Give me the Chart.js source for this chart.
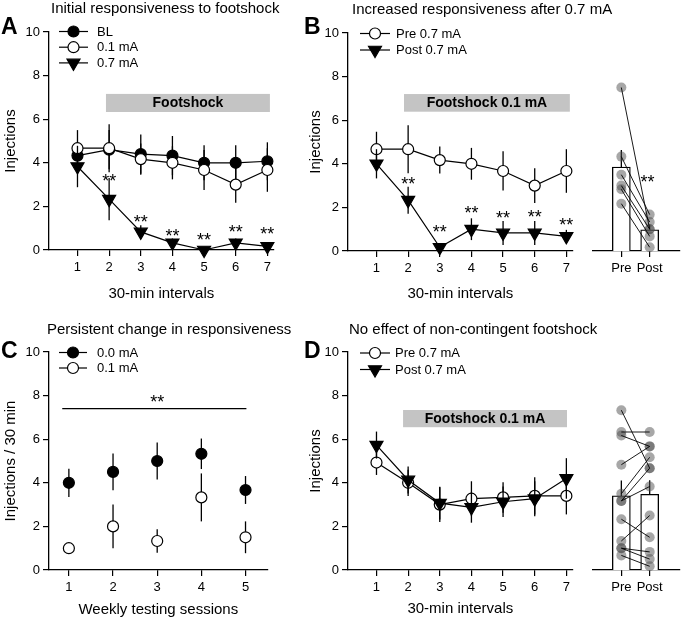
<!DOCTYPE html>
<html><head><meta charset="utf-8">
<script src="https://cdn.jsdelivr.net/npm/chart.js@4.4.1/dist/chart.umd.min.js"></script>
<style>
html,body{margin:0;padding:0;background:#fff;}
#wrap{position:relative;width:685px;height:622px;overflow:hidden;font-family:'Liberation Sans',Arial,Helvetica,sans-serif;background:#fff;}
canvas{position:absolute;left:0;top:0;}
.t{position:absolute;font-size:15px;line-height:15px;white-space:nowrap;color:#000;}
.l{position:absolute;font-size:23px;line-height:23px;font-weight:bold;color:#000;}
</style></head>
<body><div id="wrap">
<canvas id="cA" width="685" height="622"></canvas>
<canvas id="cB" width="685" height="622"></canvas>
<canvas id="cBr" width="685" height="622"></canvas>
<canvas id="cC" width="685" height="622"></canvas>
<canvas id="cD" width="685" height="622"></canvas>
<canvas id="cDr" width="685" height="622"></canvas>
<div class="t" style="left:51px;top:0px">Initial responsiveness to footshock</div>
<div class="t" style="left:352px;top:1px">Increased responsiveness after 0.7 mA</div>
<div class="t" style="left:47px;top:321px">Persistent change in responsiveness</div>
<div class="t" style="left:349px;top:321px">No effect of non-contingent footshock</div>
<div class="l" style="left:1px;top:15px">A</div>
<div class="l" style="left:304px;top:15px">B</div>
<div class="l" style="left:1px;top:339px">C</div>
<div class="l" style="left:304px;top:339px">D</div>
</div>
<script>
// ---------- data ----------
const intervals = [1, 2, 3, 4, 5, 6, 7];
const sessions = [1, 2, 3, 4, 5];
const yTicks = [0, 2, 4, 6, 8, 10];
const groups = ['Pre', 'Post'];
const groupX = [1, 2];

// Panel A
const aNames = ['BL', '0.1 mA', '0.7 mA'];
const aBL = [4.33, 4.6, 4.4, 4.33, 4.0, 4.0, 4.07];
const aBLErr = [0.6, 0.9, 0.9, 0.9, 0.8, 0.8, 0.87];
const a01 = [4.67, 4.67, 4.17, 4.0, 3.67, 3.0, 3.67];
const a01Err = [0.83, 1.1, 0.72, 0.76, 0.92, 0.83, 1.0];
const a07 = [3.83, 2.33, 0.83, 0.33, 0.0, 0.33, 0.17];
const a07Err = [0.95, 0.97, 0.3, 0.2, 0.1, 0.2, 0.15];
const aStarX = [2, 3, 4, 5, 6, 7];
const aStarY = [3.36, 1.48, 0.84, 0.64, 0.99, 0.92];

// Panel B
const bNames = ['Pre 0.7 mA', 'Post 0.7 mA'];
const bPre = [4.67, 4.67, 4.17, 4.0, 3.67, 3.0, 3.67];
const bPreErr = [0.8, 1.1, 0.62, 0.73, 0.9, 0.8, 1.0];
const bPost = [4.0, 2.33, 0.17, 1.0, 0.83, 0.83, 0.67];
const bPostErr = [0.67, 0.62, 0.1, 0.5, 0.55, 0.55, 0.3];
const bStarX = [2, 3, 4, 5, 6, 7];
const bStarY = [3.26, 1.04, 1.91, 1.7, 1.74, 1.39];
const bMeans = [3.85, 0.97];
const bMeanErr = [0.78, 0.25];
const bIndPre = [7.5, 4.33, 3.5, 3.0, 2.83, 2.17];
const bIndPost = [1.0, 1.67, 1.33, 1.0, 0.67, 0.17];
const bRightStar = {x: 1.92, y: 3.35};

// Panel C
const cNames = ['0.0 mA', '0.1 mA'];
const c00 = [4.0, 4.5, 5.0, 5.33, 3.67];
const c00Err = [0.65, 0.84, 0.85, 0.7, 0.64];
const c01 = [1.0, 2.0, 1.33, 3.33, 1.5];
const c01Err = [0.15, 1.0, 0.54, 1.1, 0.73];
const cSig = {x0: 0.85, x1: 5.02, y: 7.4, starX: 3, starY: 7.9};

// Panel D
const dNames = ['Pre 0.7 mA', 'Post 0.7 mA'];
const dPre = [4.93, 4.0, 3.0, 3.27, 3.33, 3.4, 3.4];
const dPreErr = [0.57, 0.6, 0.8, 0.8, 0.7, 0.85, 0.85];
const dPost = [5.73, 4.13, 3.07, 2.87, 3.13, 3.27, 4.2];
const dPostErr = [0.62, 0.62, 0.75, 0.7, 0.7, 0.8, 0.93];
const dMeans = [3.4, 3.47];
const dMeanErr = [0.7, 0.65];
const dIndPre = [7.33, 6.33, 6.17, 4.83, 3.5, 3.17, 3.17, 2.33, 1.33, 1.0, 1.0, 0.67];
const dIndPost = [4.67, 6.33, 5.67, 5.67, 5.17, 4.67, 3.83, 1.5, 2.5, 0.83, 0.5, 0.17];

// ---------- setup ----------
const FONT = "'Liberation Sans', Arial, Helvetica, sans-serif";
Chart.defaults.font.family = FONT;
Chart.defaults.font.size = 13;
Chart.defaults.color = '#000';
const W = 685, H = 622;

function drawMarker(ctx, style, x, y, r, fill) {
  ctx.save();
  ctx.beginPath();
  if (style === 'circle') {
    ctx.arc(x, y, r, 0, Math.PI * 2);
  } else {
    let rad = Math.PI;
    for (let k = 0; k < 3; k++) {
      const px = x + Math.sin(rad) * r, py = y - Math.cos(rad) * r;
      if (k) ctx.lineTo(px, py); else ctx.moveTo(px, py);
      rad += 2 * Math.PI / 3;
    }
    ctx.closePath();
  }
  ctx.fillStyle = fill; ctx.fill();
  ctx.lineWidth = 1.2; ctx.strokeStyle = '#000'; ctx.stroke();
  ctx.restore();
}

const errorBarPlugin = {
  id: 'errbars',
  beforeDatasetDraw(chart, args) {
    const ds = chart.data.datasets[args.index];
    if (!ds.errors) return;
    const ys = chart.scales.y, ctx = chart.ctx;
    ctx.save();
    ctx.strokeStyle = '#000'; ctx.lineWidth = 1.3;
    args.meta.data.forEach((el, i) => {
      const v = ds.data[i].y, e = ds.errors[i];
      if (e == null) return;
      const top = ys.getPixelForValue(v + e);
      const bot = ds.errUpOnly ? ys.getPixelForValue(v) : ys.getPixelForValue(v - e);
      ctx.beginPath(); ctx.moveTo(el.x, top); ctx.lineTo(el.x, bot); ctx.stroke();
    });
    ctx.restore();
  }
};

const deco = {};
function starText(ctx, x, y) {
  ctx.save();
  ctx.font = '18px ' + FONT;
  ctx.fillStyle = '#000'; ctx.textAlign = 'center'; ctx.textBaseline = 'alphabetic';
  ctx.fillText('**', x, y + 10);
  ctx.restore();
}
const decoPlugin = {
  id: 'deco',
  beforeDatasetsDraw(chart) {
    const d = deco[chart.canvas.id];
    if (!d || !d.band) return;
    const xs = chart.scales.x, ys = chart.scales.y, ctx = chart.ctx, b = d.band;
    const x0 = xs.getPixelForValue(b.x0), x1 = xs.getPixelForValue(b.x1);
    const y0 = ys.getPixelForValue(b.y1), y1 = ys.getPixelForValue(b.y0);
    ctx.save();
    ctx.fillStyle = '#c4c4c4';
    ctx.fillRect(x0, y0, x1 - x0, y1 - y0);
    ctx.font = 'bold 14px ' + FONT;
    ctx.fillStyle = '#000'; ctx.textAlign = 'center'; ctx.textBaseline = 'middle';
    ctx.fillText(b.text, (x0 + x1) / 2, (y0 + y1) / 2 + 0.5);
    ctx.restore();
  },
  afterDatasetsDraw(chart) {
    const d = deco[chart.canvas.id];
    if (!d) return;
    const xs = chart.scales.x, ys = chart.scales.y, ctx = chart.ctx;
    (d.stars || []).forEach(s => starText(ctx, xs.getPixelForValue(s.x), ys.getPixelForValue(s.y)));
    if (d.sig) {
      const s = d.sig;
      ctx.save();
      ctx.strokeStyle = '#000'; ctx.lineWidth = 1.2;
      ctx.beginPath();
      ctx.moveTo(xs.getPixelForValue(s.x0), ys.getPixelForValue(s.y));
      ctx.lineTo(xs.getPixelForValue(s.x1), ys.getPixelForValue(s.y));
      ctx.stroke();
      ctx.restore();
      starText(ctx, xs.getPixelForValue(s.starX), ys.getPixelForValue(s.starY));
    }
    if (d.legend) {
      const L = d.legend;
      L.items.forEach((it, k) => {
        const y = L.y0 + k * L.dy;
        ctx.save();
        ctx.strokeStyle = '#000'; ctx.lineWidth = 1.2;
        ctx.beginPath(); ctx.moveTo(L.x0, y); ctx.lineTo(L.x1, y); ctx.stroke();
        ctx.restore();
        drawMarker(ctx, it.style, L.xm, y, it.style === 'circle' ? 5.5 : 7.5, it.fill);
        ctx.save();
        ctx.font = '13px ' + FONT; ctx.fillStyle = '#000';
        ctx.textAlign = 'left'; ctx.textBaseline = 'middle';
        ctx.fillText(it.label, L.xt, y + 0.5);
        ctx.restore();
      });
    }
  }
};
Chart.register(errorBarPlugin, decoPlugin);

const gridOpt = { display: true, offset: false, drawOnChartArea: false, drawTicks: true, tickLength: 6, color: '#000', lineWidth: 1.2 };
const borderOpt = { display: true, color: '#000', width: 1.3 };

function xAxis({min, max, ticks, labels, title, height}) {
  return {
    type: 'linear', min, max, offset: false,
    afterBuildTicks: s => { s.ticks = ticks.map(v => ({value: v})); },
    afterFit: s => { s.height = height; },
    ticks: { padding: 4, autoSkip: false, maxRotation: 0, font: {size: 13},
      callback: v => labels ? labels[ticks.indexOf(v)] : String(v) },
    grid: gridOpt, border: borderOpt,
    title: title ? { display: true, text: title, font: {size: 15}, padding: {top: 0, bottom: 0} } : { display: false }
  };
}
function yAxis({title, width, show = true}) {
  return {
    type: 'linear', min: 0, max: 10, display: show,
    afterBuildTicks: s => { s.ticks = yTicks.map(v => ({value: v})); },
    afterFit: s => { s.width = width; },
    ticks: { padding: 3, font: {size: 13}, callback: v => String(v) },
    grid: gridOpt, border: borderOpt,
    title: { display: true, text: title, font: {size: 15}, padding: {top: 0, bottom: 0} }
  };
}
function baseOptions(padding, x, y) {
  return {
    responsive: false, animation: false, devicePixelRatio: 1,
    layout: { padding },
    plugins: { legend: {display: false}, tooltip: {enabled: false} },
    events: [],
    scales: { x, y }
  };
}
function series(xs, vals, errs, style, fill, showLine = true) {
  const tri = style === 'triangle';
  return {
    data: xs.map((x, i) => ({x, y: vals[i]})),
    errors: errs,
    showLine, borderColor: '#000', borderWidth: 1.2, backgroundColor: fill, fill: false, tension: 0,
    pointStyle: style, pointRotation: tri ? 180 : 0,
    pointRadius: tri ? 7.5 : 5.5, pointHoverRadius: tri ? 7.5 : 5.5,
    pointBorderWidth: 1.2, pointBackgroundColor: fill, pointBorderColor: '#000',
    clip: false
  };
}
function pairPanel(pre, post, means, errs) {
  const lines = pre.map((p, i) => ({
    type: 'line', data: [{x: groupX[0], y: p}, {x: groupX[1], y: post[i]}],
    borderColor: '#000', borderWidth: 0.9, pointRadius: 0, pointHoverRadius: 0, clip: false
  }));
  const dot = arr => ({
    type: 'scatter', data: arr, pointRadius: 5, pointHoverRadius: 5,
    pointBackgroundColor: 'rgba(80,80,80,0.5)', backgroundColor: 'rgba(80,80,80,0.5)',
    pointBorderWidth: 0, borderWidth: 0, clip: false
  });
  const bars = {
    type: 'bar', data: groupX.map((x, i) => ({x, y: means[i]})),
    errors: errs, errUpOnly: true,
    backgroundColor: '#fff', borderColor: '#000', borderWidth: 1.3, barThickness: 18, clip: false
  };
  return [...lines, dot(pre.map(y => ({x: groupX[0], y}))), dot(post.map(y => ({x: groupX[1], y}))), bars];
}

// ---------- Panel A ----------
deco.cA = {
  band: {x0: 1.9, x1: 7.08, y0: 6.33, y1: 7.16, text: 'Footshock'},
  stars: aStarX.map((x, i) => ({x, y: aStarY[i]})),
  legend: {x0: 59, x1: 88, xm: 73.5, xt: 97, y0: 31.5, dy: 15.7, items: [
    {label: aNames[0], style: 'circle', fill: '#000'},
    {label: aNames[1], style: 'circle', fill: '#fff'},
    {label: aNames[2], style: 'triangle', fill: '#000'}]}
};
new Chart(document.getElementById('cA'), {
  type: 'line',
  data: { datasets: [
    series(intervals, a07, a07Err, 'triangle', '#000'),
    series(intervals, a01, a01Err, 'circle', '#fff'),
    series(intervals, aBL, aBLErr, 'circle', '#000')
  ]},
  options: baseOptions({left: 2, top: 32, right: W - 273.7, bottom: 319.5},
    xAxis({min: 0.1, max: 7.2, ticks: intervals, title: '30-min intervals', height: 52.5}),
    yAxis({title: 'Injections', width: 47}))
});

// ---------- Panel B (left) ----------
deco.cB = {
  band: {x0: 1.87, x1: 7.11, y0: 6.39, y1: 7.2, text: 'Footshock 0.1 mA'},
  stars: bStarX.map((x, i) => ({x, y: bStarY[i]})),
  legend: {x0: 360, x1: 390, xm: 375, xt: 396, y0: 33.5, dy: 16.5, items: [
    {label: bNames[0], style: 'circle', fill: '#fff'},
    {label: bNames[1], style: 'triangle', fill: '#000'}]}
};
new Chart(document.getElementById('cB'), {
  type: 'line',
  data: { datasets: [
    series(intervals, bPost, bPostErr, 'triangle', '#000'),
    series(intervals, bPre, bPreErr, 'circle', '#fff')
  ]},
  options: baseOptions({left: 307, top: 33, right: W - 572.7, bottom: 319.5},
    xAxis({min: 0.1, max: 7.2, ticks: intervals, title: '30-min intervals', height: 51.5}),
    yAxis({title: 'Injections', width: 41}))
});

// ---------- Panel B (right) ----------
deco.cBr = { stars: [bRightStar] };
new Chart(document.getElementById('cBr'), {
  type: 'bar',
  data: { datasets: pairPanel(bIndPre, bIndPost, bMeans, bMeanErr) },
  options: baseOptions({left: 593, top: 33, right: 0, bottom: H - 251 - 40},
    xAxis({min: 0, max: 3.07, ticks: groupX, labels: groups, height: 40}),
    yAxis({title: '', width: 0, show: false}))
});

// ---------- Panel C ----------
deco.cC = {
  sig: cSig,
  legend: {x0: 59, x1: 87, xm: 73, xt: 97, y0: 352.5, dy: 15.5, items: [
    {label: cNames[0], style: 'circle', fill: '#000'},
    {label: cNames[1], style: 'circle', fill: '#fff'}]}
};
new Chart(document.getElementById('cC'), {
  type: 'scatter',
  data: { datasets: [
    series(sessions, c00, c00Err, 'circle', '#000', false),
    series(sessions, c01, c01Err, 'circle', '#fff', false)
  ]},
  options: baseOptions({left: 2, top: 352, right: W - 267.6, bottom: 3},
    xAxis({min: 0.55, max: 5.5, ticks: sessions, title: 'Weekly testing sessions', height: 49}),
    yAxis({title: 'Injections / 30 min', width: 47}))
});

// ---------- Panel D (left) ----------
deco.cD = {
  band: {x0: 1.84, x1: 7.02, y0: 6.55, y1: 7.34, text: 'Footshock 0.1 mA'},
  legend: {x0: 360, x1: 390, xm: 375, xt: 395, y0: 353, dy: 16.5, items: [
    {label: dNames[0], style: 'circle', fill: '#fff'},
    {label: dNames[1], style: 'triangle', fill: '#000'}]}
};
new Chart(document.getElementById('cD'), {
  type: 'line',
  data: { datasets: [
    series(intervals, dPost, dPostErr, 'triangle', '#000'),
    series(intervals, dPre, dPreErr, 'circle', '#fff')
  ]},
  options: baseOptions({left: 307, top: 352, right: W - 572.7, bottom: 4},
    xAxis({min: 0.1, max: 7.2, ticks: intervals, title: '30-min intervals', height: 48}),
    yAxis({title: 'Injections', width: 41}))
});

// ---------- Panel D (right) ----------
new Chart(document.getElementById('cDr'), {
  type: 'bar',
  data: { datasets: pairPanel(dIndPre, dIndPost, dMeans, dMeanErr) },
  options: baseOptions({left: 593, top: 352, right: 0, bottom: H - 570 - 40},
    xAxis({min: 0, max: 3.07, ticks: groupX, labels: groups, height: 40}),
    yAxis({title: '', width: 0, show: false}))
});
</script>
</body></html>
